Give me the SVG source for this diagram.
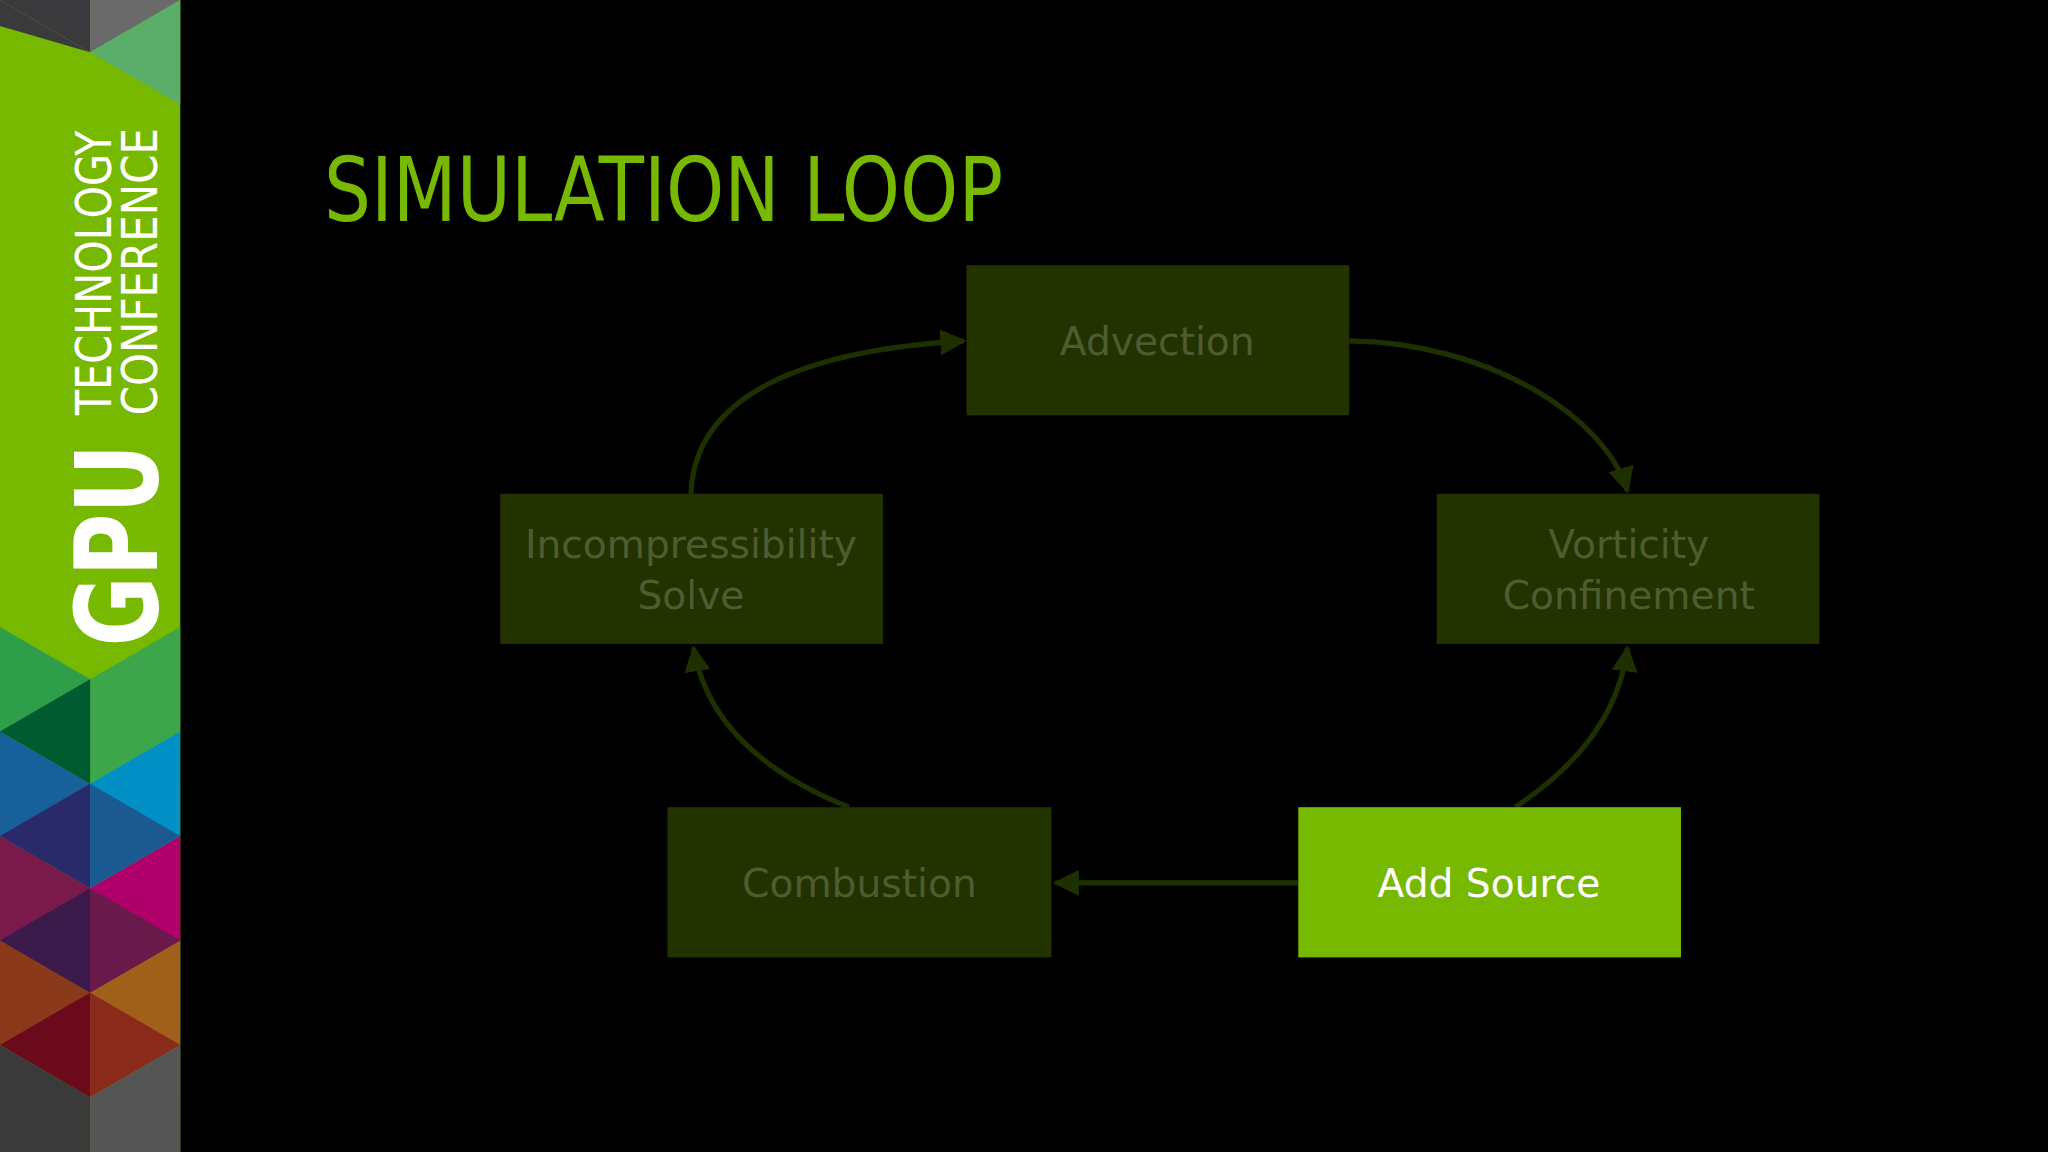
<svg xmlns="http://www.w3.org/2000/svg" width="2048" height="1152" viewBox="0 0 2048 1152">
<defs>
<style>
.box{fill:#223300}
.lbl{font-family:"DejaVu Sans","Liberation Sans",sans-serif;font-size:30px;fill:#4f5c32;text-anchor:middle}
.con{fill:none;stroke:#1e3000;stroke-width:4}
</style>
<marker id="ah" viewBox="0 0 10 10" refX="9" refY="5" markerWidth="5" markerHeight="5" orient="auto" markerUnits="strokeWidth">
<path d="M0,0L10,5L0,10z" fill="#1e3000"/>
</marker>
</defs>
<rect width="2048" height="1152" fill="#000"/>
<g transform="scale(1.30612)">
<g id="sidebar">
<rect width="138" height="882" fill="#76b900"/>
<polygon points="0,0 69,0 69,40" fill="#3a3a3c"/>
<polygon points="0,0 69,40 0,20" fill="#3a3a3c"/>
<polygon points="69,0 138,0 69,40" fill="#6a6a6a"/>
<polygon points="69,40 138,0 138,80" fill="#5aae6a"/>
<polygon points="0,480 69,520 69,600 0,560" fill="#2f9e4a"/>
<polygon points="69,520 138,480 138,560 69,600" fill="#3da64a"/>
<polygon points="0,560 69,600 69,680 0,640" fill="#17609a"/>
<polygon points="69,600 138,560 138,640 69,680" fill="#0090c6"/>
<polygon points="0,560 69,520 69,600" fill="#005a30"/>
<polygon points="0,640 69,680 69,760 0,720" fill="#7a1a4a"/>
<polygon points="69,680 138,640 138,720 69,760" fill="#b0006a"/>
<polygon points="0,640 69,600 69,680" fill="#2a2a6a"/>
<polygon points="69,600 138,640 69,680" fill="#1a5a90"/>
<polygon points="0,720 69,760 69,840 0,800" fill="#8a3a1a"/>
<polygon points="69,760 138,720 138,800 69,840" fill="#a0601a"/>
<polygon points="0,720 69,680 69,760" fill="#3a1a4a"/>
<polygon points="69,680 138,720 69,760" fill="#6a1a4a"/>
<polygon points="0,800 69,760 69,840" fill="#6a0a1a"/>
<polygon points="69,760 138,800 69,840" fill="#8a2a1a"/>
<polygon points="0,800 69,840 69,882 0,882" fill="#3a3a3a"/>
<polygon points="69,840 138,800 138,882 69,882" fill="#555"/>
<text transform="translate(120,495) rotate(-90)" font-family="'DejaVu Sans','Liberation Sans',sans-serif" font-weight="bold" font-size="88" fill="#fff" textLength="155" lengthAdjust="spacingAndGlyphs">GPU</text>
<text transform="translate(85,318) rotate(-90)" font-family="'DejaVu Sans','Liberation Sans',sans-serif" font-size="38" fill="#fff" textLength="218" lengthAdjust="spacingAndGlyphs">TECHNOLOGY</text>
<text transform="translate(120,318) rotate(-90)" font-family="'DejaVu Sans','Liberation Sans',sans-serif" font-size="38" fill="#fff" textLength="220" lengthAdjust="spacingAndGlyphs">CONFERENCE</text>
</g>
<text id="title" x="248" y="169" font-family="'DejaVu Sans','Liberation Sans',sans-serif" font-size="68" fill="#76b900" textLength="520" lengthAdjust="spacingAndGlyphs">SIMULATION LOOP</text>
<g id="connectors">
<path class="con" marker-end="url(#ah)" d="M529,378 C532,300 620,268 738,261"/>
<path class="con" marker-end="url(#ah)" d="M1033,261 C1140,262 1230,320 1246,376"/>
<path class="con" marker-end="url(#ah)" d="M1160,618 C1210,585 1240,545 1246,496"/>
<path class="con" marker-end="url(#ah)" d="M650,618 C580,590 540,550 531,496"/>
<path class="con" marker-end="url(#ah)" d="M994,676 L808,676"/>
</g>
<g id="advection"><rect class="box" x="740" y="203" width="293" height="115"/><text class="lbl" x="886" y="272">Advection</text></g>
<g id="incompressibility"><rect class="box" x="383" y="378" width="293" height="115"/><text class="lbl" x="529" y="427">Incompressibility</text><text class="lbl" x="529" y="466">Solve</text></g>
<g id="vorticity"><rect class="box" x="1100" y="378" width="293" height="115"/><text class="lbl" x="1247" y="427">Vorticity</text><text class="lbl" x="1247" y="466">Confinement</text></g>
<g id="combustion"><rect class="box" x="511" y="618" width="294" height="115"/><text class="lbl" x="658" y="687">Combustion</text></g>
<g id="addsource"><rect x="994" y="618" width="293" height="115" fill="#76b900"/><text class="lbl" x="1140" y="687" fill="#fff" style="fill:#fff">Add Source</text></g>
</g>
</svg>
